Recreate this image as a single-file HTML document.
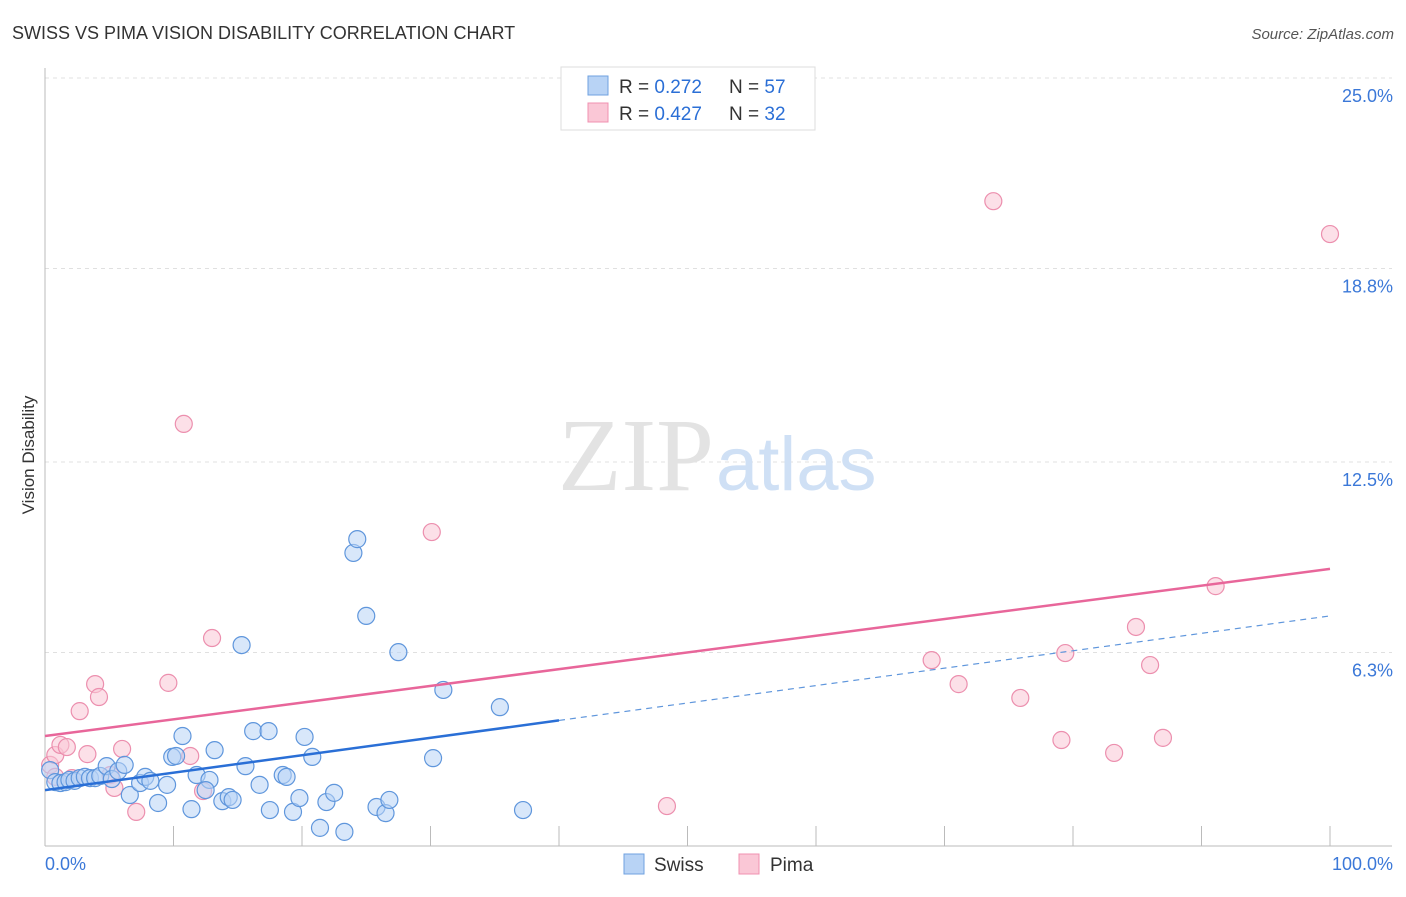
<!DOCTYPE html>
<html><head><meta charset="utf-8"><style>
body{margin:0;background:#fff;font-family:"Liberation Sans",sans-serif;}
svg text{font-family:"Liberation Sans",sans-serif;}
</style></head><body>
<svg id="c" width="1406" height="892">
<text x="12" y="39" font-size="18" fill="#333">SWISS VS PIMA VISION DISABILITY CORRELATION CHART</text>
<text x="1394" y="39" font-size="15" fill="#555" font-style="italic" text-anchor="end">Source: ZipAtlas.com</text>
<text x="0" y="0" transform="translate(34,455) rotate(-90)" font-size="17" fill="#333" text-anchor="middle">Vision Disability</text>
<g id="grid"></g>
<text x="714" y="490" font-size="104" fill="#e3e3e3" text-anchor="end" style="font-family:'Liberation Serif',serif">ZIP</text>
<text x="716" y="490" font-size="76" fill="#cfe0f5">atlas</text>
<g id="marks"></g>
<g>
<rect x="561" y="67" width="254" height="63" fill="#fff" stroke="#ddd"/>
<rect x="588" y="76" width="20" height="19" fill="#b8d3f5" stroke="#6fa1e0"/>
<rect x="588" y="103" width="20" height="19" fill="#fac7d6" stroke="#f090b0"/>
<text x="619" y="93" font-size="19" fill="#333">R = <tspan fill="#2b6fd6">0.272</tspan></text>
<text x="729" y="93" font-size="19" fill="#333">N = <tspan fill="#2b6fd6">57</tspan></text>
<text x="619" y="120" font-size="19" fill="#333">R = <tspan fill="#2b6fd6">0.427</tspan></text>
<text x="729" y="120" font-size="19" fill="#333">N = <tspan fill="#2b6fd6">32</tspan></text>
</g>
<g>
<rect x="624" y="854" width="20" height="20" fill="#b8d3f5" stroke="#6fa1e0"/>
<text x="654" y="871" font-size="19" fill="#333">Swiss</text>
<rect x="739" y="854" width="20" height="20" fill="#fac7d6" stroke="#f090b0"/>
<text x="770" y="871" font-size="19" fill="#333">Pima</text>
</g>
</svg>
<script>
const yTicks=[25.0,18.8,12.5,6.3];
const yTickLabels=["25.0%","18.8%","12.5%","6.3%"];
const xTickLabels=["0.0%","100.0%"];
const swissX=[0.4,0.8,1.2,1.6,1.9,2.3,2.7,3.1,3.5,3.9,4.3,4.8,5.2,5.7,6.2,6.6,7.4,7.8,8.2,8.8,9.5,9.9,10.2,10.7,11.4,11.8,12.8,12.5,13.2,13.8,14.3,14.6,15.3,15.6,16.2,16.7,17.4,17.5,18.5,18.8,19.3,19.8,20.2,20.8,21.4,21.9,22.5,23.3,24.0,24.3,25.0,25.8,26.5,26.8,27.5,30.2,31.0,35.4,37.2];
const swissY=[2.47,2.08,2.05,2.08,2.15,2.12,2.21,2.25,2.21,2.21,2.28,2.60,2.18,2.44,2.64,1.66,2.05,2.25,2.12,1.40,1.99,2.90,2.93,3.58,1.20,2.31,2.15,1.82,3.12,1.46,1.59,1.50,6.54,2.60,3.74,1.99,3.74,1.17,2.31,2.25,1.11,1.56,3.55,2.90,0.59,1.43,1.73,0.46,9.54,9.99,7.49,1.27,1.07,1.50,6.31,2.86,5.08,4.52,1.17];
const pimaX=[0.4,0.8,1.2,1.7,2.7,3.3,3.9,4.2,5.1,5.4,6.0,7.1,9.6,10.8,11.3,12.3,13.0,30.1,48.4,69.0,71.1,73.8,75.9,79.1,79.4,83.2,84.9,86.0,87.0,91.1,100,0.8,2.1];
const pimaY=[2.64,2.96,3.29,3.22,4.39,2.99,5.27,4.85,2.31,1.89,3.16,1.11,5.31,13.74,2.93,1.79,6.77,10.22,1.30,6.05,5.27,20.99,4.82,3.45,6.28,3.03,7.13,5.89,3.52,8.46,19.92,2.25,2.21];
const swissTrend=[1.82,7.49]; const swissSolidEnd=40;
const pimaTrend=[3.58,9.02];
const X=v=>45+v*12.85, Y=v=>846-v*30.72;
const NS="http://www.w3.org/2000/svg";
function mk(t,a,p){const e=document.createElementNS(NS,t);for(const k in a)e.setAttribute(k,a[k]);p.appendChild(e);return e;}
const g=document.getElementById('grid'), m=document.getElementById('marks');
yTicks.forEach((t,i)=>{
 const l=mk('line',{x1:45,x2:1392,y1:Y(t),y2:Y(t),stroke:'#e0e0e0','stroke-dasharray':'4,4'},g);
 
 
 const tx=mk('text',{x:1393,y:Y(t)+24,'font-size':18,fill:'#3b78d8','text-anchor':'end'},g);tx.textContent=yTickLabels[i];
 
 
});
const ax=mk('line',{x1:45,x2:45,y1:68,y2:846,stroke:'#bbb'},g);


const bx=mk('line',{x1:45,x2:1392,y1:846,y2:846,stroke:'#bbb'},g);


for(let i=1;i<=10;i++){const t=mk('line',{x1:45+i*128.5,x2:45+i*128.5,y1:826,y2:846,stroke:'#bbb'},g);
 
 }
[[0,'start',45],[100,'end',1393]].forEach((d,i)=>{const t=mk('text',{x:d[2],y:870,'font-size':18,fill:'#3b78d8','text-anchor':d[1]},g);t.textContent=xTickLabels[i];
 
 });
function pts(xs,ys,fill,stroke,name){xs.forEach((x,i)=>{const c=mk('circle',{cx:X(x),cy:Y(ys[i]),r:8.5,fill:fill,'fill-opacity':0.55,stroke:stroke,'stroke-width':1.2},m);
 
 });}
pts(pimaX,pimaY,'#fac7d6','#ec8fae','pima-point');
pts(swissX,swissY,'#b8d3f5','#5f96dc','swiss-point');
const sy=x=>swissTrend[0]+(swissTrend[1]-swissTrend[0])*x/100;
const s1=mk('line',{x1:X(0),y1:Y(sy(0)),x2:X(swissSolidEnd),y2:Y(sy(swissSolidEnd)),stroke:'#2a6fd6','stroke-width':2.5},m);


const s2=mk('line',{x1:X(swissSolidEnd),y1:Y(sy(swissSolidEnd)),x2:X(100),y2:Y(sy(100)),stroke:'#5f96dc','stroke-width':1.2,'stroke-dasharray':'6,5'},m);


const p1=mk('line',{x1:X(0),y1:Y(pimaTrend[0]),x2:X(100),y2:Y(pimaTrend[1]),stroke:'#e8669a','stroke-width':2.5},m);


</script>
</body></html>
